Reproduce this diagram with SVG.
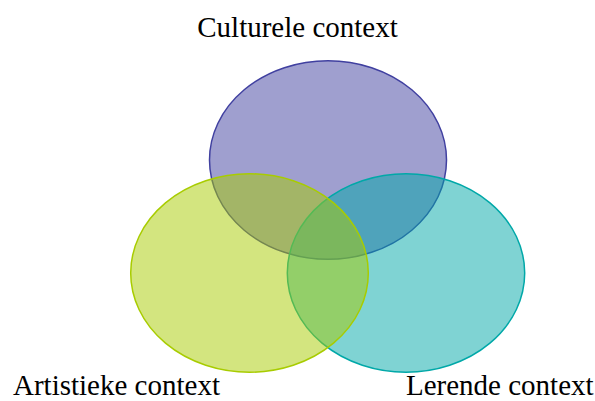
<svg xmlns="http://www.w3.org/2000/svg" width="595" height="401" viewBox="0 0 595 401">
  <style>
    .set { stroke-width: 1.5; fill-opacity: 0.5; }
    .label { font-family: "Liberation Serif", "Times New Roman", serif; font-size: 29px; fill: #000; }
  </style>
  <rect width="595" height="401" fill="#fff"/>
  <!-- Three overlapping context sets -->
  <g id="culturele">
    <ellipse class="set" cx="328" cy="160" rx="118.5" ry="99.3" fill="#4040a0" stroke="#4040a0"/>
  </g>
  <g id="lerende">
    <ellipse class="set" cx="406" cy="273" rx="118.7" ry="99.2" fill="#00a8a8" stroke="#00a8a8"/>
  </g>
  <g id="artistieke">
    <ellipse class="set" cx="249.5" cy="273" rx="118.8" ry="99.2" fill="#a8cc00" stroke="#a8cc00"/>
  </g>
  <!-- Set labels -->
  <g id="labels">
    <text class="label" x="297.5" y="37" text-anchor="middle">Culturele context</text>
    <text class="label" x="13" y="394.5">Artistieke context</text>
    <text class="label" x="406" y="394.5">Lerende context</text>
  </g>
</svg>
